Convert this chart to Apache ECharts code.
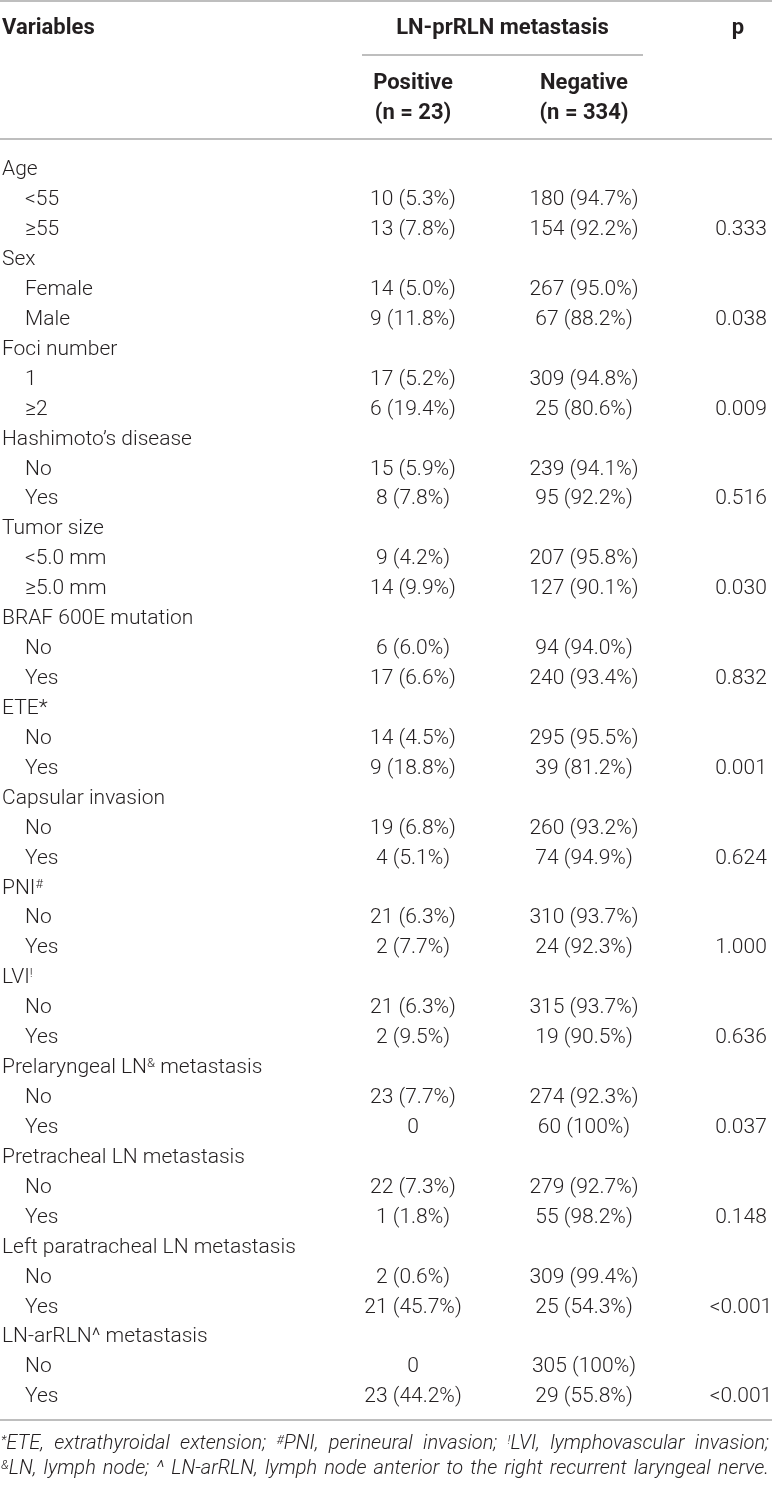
<!DOCTYPE html>
<html>
<head>
<meta charset="utf-8">
<script src="https://cdn.jsdelivr.net/npm/echarts@6/dist/echarts.min.js"></script>
<style>
  html, body { margin: 0; padding: 0; background: #fff; }
  #main { width: 772px; height: 1486px; }
</style>
</head>
<body>
<div id="main"></div>
<script>
// table rows
var variables = [
  'Age', '<55', '≥55',
  'Sex', 'Female', 'Male',
  'Foci number', '1', '≥2',
  'Hashimoto’s disease', 'No', 'Yes',
  'Tumor size', '<5.0 mm', '≥5.0 mm',
  'BRAF 600E mutation', 'No', 'Yes',
  'ETE*', 'No', 'Yes',
  'Capsular invasion', 'No', 'Yes',
  'PNI{sup|#}', 'No', 'Yes',
  'LVI{sup|!}', 'No', 'Yes',
  'Prelaryngeal LN{sup|&} metastasis', 'No', 'Yes',
  'Pretracheal LN metastasis', 'No', 'Yes',
  'Left paratracheal LN metastasis', 'No', 'Yes',
  'LN-arRLN^ metastasis', 'No', 'Yes'
];
var isSub = [0,1,1, 0,1,1, 0,1,1, 0,1,1, 0,1,1, 0,1,1, 0,1,1, 0,1,1, 0,1,1, 0,1,1, 0,1,1, 0,1,1, 0,1,1, 0,1,1];
var positive = [
  '', '10 (5.3%)', '13 (7.8%)',
  '', '14 (5.0%)', '9 (11.8%)',
  '', '17 (5.2%)', '6 (19.4%)',
  '', '15 (5.9%)', '8 (7.8%)',
  '', '9 (4.2%)', '14 (9.9%)',
  '', '6 (6.0%)', '17 (6.6%)',
  '', '14 (4.5%)', '9 (18.8%)',
  '', '19 (6.8%)', '4 (5.1%)',
  '', '21 (6.3%)', '2 (7.7%)',
  '', '21 (6.3%)', '2 (9.5%)',
  '', '23 (7.7%)', '0',
  '', '22 (7.3%)', '1 (1.8%)',
  '', '2 (0.6%)', '21 (45.7%)',
  '', '0', '23 (44.2%)'
];
var negative = [
  '', '180 (94.7%)', '154 (92.2%)',
  '', '267 (95.0%)', '67 (88.2%)',
  '', '309 (94.8%)', '25 (80.6%)',
  '', '239 (94.1%)', '95 (92.2%)',
  '', '207 (95.8%)', '127 (90.1%)',
  '', '94 (94.0%)', '240 (93.4%)',
  '', '295 (95.5%)', '39 (81.2%)',
  '', '260 (93.2%)', '74 (94.9%)',
  '', '310 (93.7%)', '24 (92.3%)',
  '', '315 (93.7%)', '19 (90.5%)',
  '', '274 (92.3%)', '60 (100%)',
  '', '279 (92.7%)', '55 (98.2%)',
  '', '309 (99.4%)', '25 (54.3%)',
  '', '305 (100%)', '29 (55.8%)'
];
var pValues = [
  '', '', '0.333',
  '', '', '0.038',
  '', '', '0.009',
  '', '', '0.516',
  '', '', '0.030',
  '', '', '0.832',
  '', '', '0.001',
  '', '', '0.624',
  '', '', '1.000',
  '', '', '0.636',
  '', '', '0.037',
  '', '', '0.148',
  '', '', '<0.001',
  '', '', '<0.001'
];
var headerTop = ['Variables', 'LN-prRLN metastasis', 'p'];
var headerSub = [['Positive', '(n = 23)'], ['Negative', '(n = 334)']];
var footnotes = [
  '{sup|*}ETE, extrathyroidal extension; {sup|#}PNI, perineural invasion; {sup|!}LVI, lymphovascular invasion;',
  '{sup|&}LN, lymph node; ^ LN-arRLN, lymph node anterior to the right recurrent laryngeal nerve.'
];

var chart = echarts.init(document.getElementById('main'));

var TXT = '#231f20', RULE = '#a8a8a8', FONT = 'Roboto, "Liberation Sans", sans-serif';
var FS = 21, HEAD_FS = 22;
var W = 772;
var ROW_TOP = 155, ROW_H = 29.93;

// column x (pixels, value axis runs 0..772)
var X_GROUP = 2, X_SUB = 25, X_POS = 413, X_NEG = 584, X_P = 741;

var supStyle = { fontSize: 13, lineHeight: 13, verticalAlign: 'top', fontFamily: FONT, fontWeight: 300, fill: TXT };

function textColumn(name, values, xFn, align) {
  return {
    type: 'custom',
    name: name,
    coordinateSystem: 'cartesian2d',
    silent: true,
    data: values.map(function (v, i) { return [0, i]; }),
    renderItem: function (params, api) {
      var i = params.dataIndex;
      if (!values[i]) return;
      var pt = api.coord([xFn(i), api.value(1)]);
      return {
        type: 'text',
        x: pt[0],
        y: pt[1],
        style: {
          text: values[i],
          fill: TXT,
          fontSize: FS,
          fontFamily: FONT,
          fontWeight: 300,
          lineHeight: FS,
          align: align,
          verticalAlign: 'middle',
          rich: { sup: supStyle }
        }
      };
    }
  };
}

// header pieces
var graphics = [];
function rule(x1, y, x2, w) {
  graphics.push({ type: 'line', silent: true, shape: { x1: x1, y1: y, x2: x2, y2: y }, style: { stroke: RULE, lineWidth: w || 1.6 } });
}
function htext(t, x, y, align) {
  graphics.push({ type: 'text', silent: true, x: x, y: y, style: {
    text: t, fill: TXT, fontSize: HEAD_FS, fontFamily: FONT, fontWeight: 'bold', align: align, verticalAlign: 'middle' } });
}
rule(0, 1, W);
htext(headerTop[0], X_GROUP, 28, 'left');
htext(headerTop[1], (362 + 643) / 2, 28, 'center');
htext(headerTop[2], X_P - 3, 28, 'center');
rule(362, 55, 643);
htext(headerSub[0][0], X_POS, 83, 'center');
htext(headerSub[0][1], X_POS, 113, 'center');
htext(headerSub[1][0], X_NEG, 83, 'center');
htext(headerSub[1][1], X_NEG, 113, 'center');
rule(0, 139, W);
rule(0, 1420, W);

// footnotes, justified across the width
var ctx = document.createElement('canvas').getContext('2d');
function parts(str) {
  var out = [], re = /\{(\w+)\|([^}]*)\}|([^{]+)/g, m;
  while ((m = re.exec(str))) {
    if (m[1]) out.push({ t: m[2], sup: true });
    else out.push({ t: m[3], sup: false });
  }
  return out;
}
function textWidth(w, fs) {
  var sum = 0;
  parts(w).forEach(function (p) {
    ctx.font = 'italic 300 ' + (p.sup ? fs * 0.65 : fs) + 'px ' + FONT;
    sum += ctx.measureText(p.t).width;
  });
  return sum;
}
// pick a size so the first line fills the width with ordinary spaces
var FOOT_FS = Math.min(20, 17 * (W - 4) / textWidth(footnotes[0], 17));
var footSup = { fontSize: FOOT_FS * 0.65, lineHeight: FOOT_FS * 0.65, verticalAlign: 'top', fontStyle: 'italic', fontFamily: FONT, fontWeight: 300, fill: TXT };
footnotes.forEach(function (line, li) {
  var words = line.split(' ');
  var widths = words.map(function (w) { return textWidth(w, FOOT_FS); });
  var total = widths.reduce(function (a, b) { return a + b; }, 0);
  var gap = (W - 4 - total) / (words.length - 1);
  var x = 1;
  words.forEach(function (w, k) {
    graphics.push({ type: 'text', silent: true, x: x, y: 1444 + li * 25, style: {
      text: w, fill: TXT, fontSize: FOOT_FS, lineHeight: FOOT_FS, fontStyle: 'italic', fontFamily: FONT, fontWeight: 300,
      align: 'left', verticalAlign: 'middle', rich: { sup: footSup } } });
    x += widths[k] + gap;
  });
});

chart.setOption({
  animation: false,
  backgroundColor: '#fff',
  grid: { left: 0, right: 0, top: ROW_TOP, height: ROW_H * variables.length },
  xAxis: { type: 'value', min: 0, max: W, show: false },
  yAxis: { type: 'category', inverse: true, data: variables.map(function (v, i) { return i; }), show: false },
  series: [
    textColumn('Variables', variables, function (i) { return isSub[i] ? X_SUB : X_GROUP; }, 'left'),
    textColumn('Positive', positive, function () { return X_POS; }, 'center'),
    textColumn('Negative', negative, function () { return X_NEG; }, 'center'),
    textColumn('p', pValues, function () { return X_P; }, 'center')
  ],
  graphic: graphics
});
</script>
</body>
</html>
